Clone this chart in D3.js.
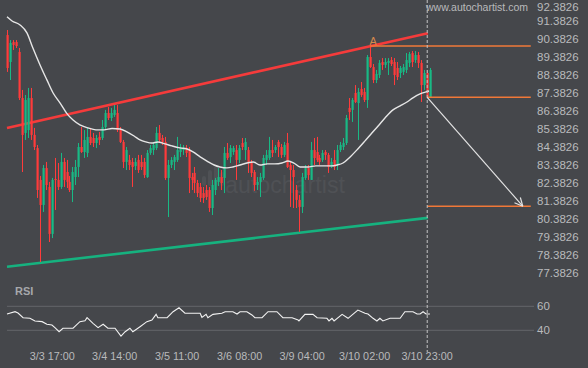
<!DOCTYPE html>
<html><head><meta charset="utf-8">
<script src="https://cdn.jsdelivr.net/npm/d3@7"></script>
<style>html,body{margin:0;padding:0;background:#45474b;}svg{display:block;}</style>
</head><body><svg id="c" width="588" height="368"></svg>
<script>
// ---- data (hourly candles, index 0..142) : [open, high, low, close]
const candles = [
[90.62,90.90,88.57,88.79],[89.12,90.34,88.12,90.18],[90.23,90.34,89.79,90.07],[90.23,90.34,89.90,90.01],
[89.68,89.90,87.01,87.12],[87.12,87.57,83.01,85.07],[85.18,87.29,84.79,87.01],[85.34,87.68,84.90,87.12],
[87.12,87.68,84.79,85.07],[85.07,85.46,84.23,84.40],[84.34,84.51,81.57,82.01],[82.57,82.79,78.01,81.18],
[81.18,83.40,80.79,83.23],[83.23,83.57,82.01,82.29],[82.18,82.46,79.12,79.57],[79.57,82.68,79.34,82.57],
[82.62,83.79,80.90,82.57],[82.57,83.51,82.01,82.18],[82.18,84.07,82.07,83.57],[83.57,83.79,82.18,82.57],
[83.01,83.68,82.12,82.46],[82.46,82.79,81.90,82.01],[82.01,83.29,81.34,83.01],[82.73,83.68,82.29,83.29],
[83.29,84.62,82.73,84.40],[84.40,85.51,84.07,84.12],[84.12,85.34,83.79,84.79],[84.07,85.51,83.84,84.96],
[84.96,85.46,84.51,84.62],[84.90,85.18,84.40,84.62],[84.62,85.07,84.34,84.90],[84.96,85.23,84.51,84.79],
[84.90,85.90,84.79,85.51],[85.51,86.46,85.34,86.29],[86.29,86.62,85.90,86.01],[86.01,86.57,85.84,86.29],
[86.18,86.73,86.07,86.46],[86.29,86.73,85.23,85.34],[85.34,85.51,84.62,84.68],[84.68,84.79,83.23,83.57],
[83.57,84.40,83.12,84.23],[83.68,83.96,83.12,83.40],[83.57,83.79,82.18,83.29],[83.34,83.79,83.12,83.57],
[83.68,83.96,82.96,83.12],[83.57,83.96,83.12,83.29],[83.57,83.79,82.68,82.84],[82.73,84.23,82.68,84.07],
[84.07,84.51,83.96,84.34],[84.23,84.68,83.96,84.51],[84.34,85.51,84.23,85.18],[85.18,85.62,84.68,84.79],
[84.90,85.07,84.51,84.68],[84.68,84.96,82.57,82.68],[82.68,83.68,80.51,83.40],[83.40,83.84,83.23,83.68],
[83.57,83.96,83.12,83.84],[83.68,84.96,83.57,84.23],[84.12,84.57,83.84,84.40],[84.23,84.51,83.96,84.34],
[84.34,84.51,83.84,84.07],[84.23,84.40,81.84,82.68],[82.73,82.96,82.01,82.57],[82.96,83.29,81.84,82.40],
[82.40,82.57,81.62,81.84],[82.18,82.40,81.34,81.57],[81.84,82.18,81.29,81.57],[82.01,82.29,81.46,81.62],
[82.01,82.18,80.79,81.01],[81.01,82.57,80.62,82.29],[82.01,82.68,81.73,82.57],[82.46,83.23,82.23,82.73],
[82.73,83.12,82.01,82.40],[82.68,84.40,81.84,84.07],[84.07,84.62,83.68,83.79],[83.84,84.51,83.51,84.34],
[84.12,84.46,83.96,84.34],[84.23,84.51,82.57,83.68],[83.68,84.51,83.51,84.34],[84.62,84.90,84.23,84.40],
[84.23,84.90,83.68,84.68],[84.23,84.40,82.96,83.51],[83.51,83.68,82.73,82.96],[83.01,83.12,81.96,82.29],
[82.29,82.73,82.01,82.46],[82.46,82.96,81.62,82.73],[82.68,83.96,82.57,83.79],[83.68,84.23,83.40,83.96],
[83.79,84.96,83.68,84.23],[84.23,84.79,83.84,84.07],[84.23,84.51,84.07,84.40],[84.68,84.79,83.84,84.40],
[84.40,84.57,83.79,83.96],[83.96,84.68,83.84,84.51],[84.62,85.18,83.23,83.29],[83.40,83.57,81.07,83.12],
[83.12,83.40,81.01,82.73],[82.01,82.29,81.01,81.46],[81.46,81.73,79.68,81.07],[81.07,82.96,80.73,82.73],
[82.68,83.40,82.57,83.23],[83.23,83.40,82.57,82.84],[82.57,84.68,82.57,84.23],[84.23,84.90,83.40,83.79],
[84.12,84.96,83.57,83.68],[83.79,83.96,83.40,83.57],[83.68,84.23,83.57,84.07],[84.12,84.23,83.68,83.96],
[83.96,84.07,82.96,83.29],[83.29,83.79,83.23,83.57],[83.68,84.23,83.12,83.29],[83.40,84.51,83.12,84.23],
[84.23,84.68,84.12,84.51],[84.40,84.90,84.23,84.62],[84.62,86.18,84.51,86.01],[86.57,87.12,85.90,86.34],
[86.46,87.12,85.79,87.01],[87.40,87.84,86.84,86.90],[86.84,87.68,84.79,87.46],[87.62,88.01,87.18,87.29],
[87.46,87.68,86.90,87.01],[87.01,89.51,86.57,89.40],[89.40,90.01,88.79,88.84],[88.84,89.01,87.95,88.12],
[88.12,88.68,87.95,88.46],[88.40,89.23,88.23,89.07],[89.12,89.34,88.68,88.96],[88.96,89.34,88.79,89.12],
[89.07,89.34,88.40,89.18],[89.23,89.40,88.90,89.01],[89.12,89.34,87.84,88.40],[88.79,89.12,88.12,88.29],
[88.51,88.90,88.23,88.79],[88.57,89.01,88.40,88.84],[88.68,89.62,88.51,89.23],[89.07,89.68,88.84,89.57],
[89.62,89.73,88.84,89.12],[89.23,89.73,89.07,89.51],[89.51,89.68,88.79,89.07],[89.07,89.23,86.90,87.84],
[87.84,88.68,87.57,88.51],[88.51,88.68,87.12,87.18],[87.18,88.79,87.18,88.68]
];
// moving average: [candle index, value]
const maLine = [
[0,91.63],[1.7,91.40],[4.4,91.18],[6.7,90.74],[8.7,89.90],[11.1,88.96],[13.4,88.13],[15.5,87.40],
[17.8,86.85],[20.2,86.24],[22.2,85.90],[24.5,85.63],[27.2,85.46],[29.9,85.35],[32.6,85.35],[35.3,85.43],
[38,85.40],[40.3,85.24],[42.7,85.01],[44.7,84.79],[46.7,84.68],[48.7,84.62],[50.7,84.68],[53.1,84.57],
[55.4,84.46],[58.1,84.35],[60.5,84.29],[62.5,84.13],[64.9,83.85],[67.2,83.62],[69.6,83.40],[71.6,83.29],
[73.9,83.24],[75.9,83.29],[78.3,83.40],[80.6,83.51],[82.7,83.57],[85,83.40],[87.4,83.46],[90,83.46],
[92.4,83.51],[94.4,83.62],[96.4,83.51],[98.5,83.29],[101.1,83.29],[103.8,83.35],[106.5,83.35],[108.9,83.35],
[110.9,83.40],[112.9,83.51],[115.3,83.85],[117.6,84.24],[120.3,84.74],[122.6,85.18],[124.7,85.57],[127,86.01],
[129.7,86.46],[132.1,86.68],[134.4,86.90],[136.4,87.13],[138.8,87.35],[140.8,87.46],[141.8,87.51]
];
// RSI: [candle index, value]
const rsiLine = [
[0,53.6],[2.7,55.5],[3.7,54.4],[5.4,50.5],[7.7,50.0],[9.4,47.8],[11.8,47.2],[13.4,45.0],[15.1,44.4],
[16.1,42.2],[17.5,38.8],[18.8,41.7],[22.2,41.7],[24.5,47.2],[26.2,48.0],[26.9,50.5],[28.9,45.8],[30.6,42.2],
[32.3,45.0],[33.9,41.7],[36.3,41.7],[38.3,35.2],[39.7,38.8],[41.3,41.7],[42.3,38.8],[44.7,43.0],[47.0,47.2],
[48.7,48.6],[50.1,53.3],[50.7,50.5],[53.8,50.5],[55.8,55.5],[57.8,58.8],[59.8,54.2],[64.9,54.2],[65.5,50.8],
[66.9,53.3],[67.5,50.5],[69.2,53.3],[72.2,54.2],[73.3,55.5],[75.9,55.5],[77.3,53.6],[78.3,55.5],[80.6,55.5],
[82.3,52.8],[83.3,50.5],[85.7,50.5],[87.7,55.5],[90.7,55.5],[92.7,50.5],[95.8,50.5],[97.8,48.6],[98.1,47.8],
[100.1,53.3],[102.8,53.3],[104.2,50.5],[107.5,50.0],[108.2,47.8],[109.2,50.0],[109.9,47.8],[112.6,53.3],
[114.6,50.0],[117.9,56.9],[120.3,54.2],[121.3,53.6],[123.0,50.0],[124.3,47.8],[125.3,50.0],[126.3,47.8],
[128.7,50.0],[132.1,50.0],[133.7,55.5],[136.4,55.5],[137.8,53.6],[138.8,53.6],[139.8,55.5],[140.8,53.6],[142.1,53.6]
];
// pattern lines: [index, value]
const resistance = [[0,85.46],[141.4,90.72]];
const support = [[0,77.75],[141.4,80.46]];
const levelA = {from:122, to:176, value:90.01, label:"A"};
const levelNow = {from:141.2, to:176, value:87.16};
const levelTarget = {from:141.2, to:176, value:81.11};
const forecast = [[141.2,87.16],[173.3,81.11]];
const nowIndex = 141.2;
const yTicks = [92.3826,91.3826,90.3826,89.3826,88.3826,87.3826,86.3826,85.3826,84.3826,83.3826,82.3826,81.3826,80.3826,79.3826,78.3826,77.3826];
const rsiTicks = [60,40];
const xTickIdx = [15,36,57,78,99,120,141];
const xTickLabels = ["3/3 17:00","3/4 14:00","3/5 11:00","3/6 08:00","3/9 04:00","3/10 02:00","3/10 23:00"];

// ---- drawing
const svg = d3.select("#c");
const x = d3.scaleLinear().domain([0,142]).range([7,429.6]);
const y = d3.scaleLinear().domain([77.3826,92.3826]).range([273.3,3.3]);
const yr = d3.scaleLinear().domain([40,60]).range([330.3,306.3]);
const RED="#ff3b3b", GREEN="#19b985", ORANGE="#f07838";
const font = "Liberation Sans, Arial, sans-serif";

// watermark
const wm = svg.append("g").attr("fill","#4f5155");
[[202,176,4,10],[208,170,4,16],[214,165,4,21],[220,172,4,14]].forEach(r=>{
  wm.append("rect").attr("x",r[0]).attr("y",r[1]).attr("width",r[2]).attr("height",r[3]).attr("rx",2);
});
wm.append("text").attr("x",225).attr("y",193).attr("font-family",font)
  .attr("font-size",23).attr("textLength",120).attr("lengthAdjust","spacingAndGlyphs").text("autochartist");

// RSI grid
svg.append("g").selectAll("line").data(rsiTicks).join("line")
  .attr("x1",7).attr("x2",534).attr("y1",d=>yr(d)).attr("y2",d=>yr(d))
  .attr("stroke","#63666a").attr("stroke-width",1);

// channel lines
const ln = d3.line().x(d=>x(d[0])).y(d=>y(d[1]));
svg.append("path").attr("d",ln(support)).attr("stroke","#16b27f").attr("stroke-width",2.6).attr("fill","none");
svg.append("path").attr("d",ln(resistance)).attr("stroke","#f53b3b").attr("stroke-width",2.6).attr("fill","none");

// candles
const cg = svg.append("g");
candles.forEach((c,i)=>{
  const up = c[3] >= c[0];
  const col = up ? GREEN : RED;
  const cx = Math.round(x(i));
  cg.append("line").attr("x1",cx+0.5).attr("x2",cx+0.5).attr("y1",y(c[1])).attr("y2",y(c[2]))
    .attr("stroke",col).attr("stroke-width",1);
  const top = y(Math.max(c[0],c[3])), bot = y(Math.min(c[0],c[3]));
  cg.append("rect").attr("x",cx-0.5).attr("y",top).attr("width",2.2).attr("height",Math.max(1,bot-top)).attr("fill",col);
});

// moving average
svg.append("path").attr("d",d3.line().curve(d3.curveMonotoneX).x(d=>x(d[0])).y(d=>y(d[1]))(maLine))
  .attr("stroke","#e6e6e6").attr("stroke-width",1.4).attr("fill","none");

// levels
[levelA, levelNow, levelTarget].forEach(l=>{
  svg.append("line").attr("x1",x(l.from)).attr("x2",x(l.to)).attr("y1",y(l.value)).attr("y2",y(l.value))
    .attr("stroke",ORANGE).attr("stroke-width",1.5);
});
svg.append("text").attr("x",x(levelA.from)+3).attr("y",y(levelA.value)-1.5).attr("text-anchor","middle")
  .attr("font-family",font).attr("font-size",11).attr("fill","#d4894d").text(levelA.label);

// now line
svg.append("line").attr("x1",x(nowIndex)).attr("x2",x(nowIndex)).attr("y1",0).attr("y2",352)
  .attr("stroke","#c4c4c4").attr("stroke-width",1).attr("stroke-dasharray","3,2");

// forecast arrow
const a0=[x(forecast[0][0]),y(forecast[0][1])], a1=[x(forecast[1][0]),y(forecast[1][1])];
svg.append("line").attr("x1",a0[0]).attr("y1",a0[1]).attr("x2",a1[0]).attr("y2",a1[1])
  .attr("stroke","#e4e4e4").attr("stroke-width",1.2);
const ang=Math.atan2(a1[1]-a0[1],a1[0]-a0[0]), L=9;
[0.45,-0.45].forEach(da=>{
  svg.append("line").attr("x1",a1[0]).attr("y1",a1[1])
    .attr("x2",a1[0]-L*Math.cos(ang+da)).attr("y2",a1[1]-L*Math.sin(ang+da))
    .attr("stroke","#e4e4e4").attr("stroke-width",1.2);
});

// RSI line
svg.append("path").attr("d",d3.line().x(d=>x(d[0])).y(d=>yr(d[1]))(rsiLine))
  .attr("stroke","#f2f2f2").attr("stroke-width",1.1).attr("fill","none");
svg.append("text").attr("x",15).attr("y",295).attr("font-family",font)
  .attr("font-size",11).attr("font-weight","bold").attr("fill","#a6a8ab").text("RSI");

// axes
const ya = svg.append("g").attr("transform","translate(533,0)")
  .call(d3.axisRight(y).tickValues(yTicks).tickFormat(d=>d.toFixed(4)).tickSize(0).tickPadding(4));
ya.select(".domain").remove();
ya.selectAll("text").attr("font-family",font).attr("font-size",11.5).attr("fill","#b9babc")
  .attr("y",function(d){ return y(d) < 7 ? 7 - y(d) : 0; });
const ra = svg.append("g").attr("transform","translate(533,0)")
  .call(d3.axisRight(yr).tickValues(rsiTicks).tickSize(0).tickPadding(4));
ra.select(".domain").remove();
ra.selectAll("text").attr("font-family",font).attr("font-size",11.5).attr("fill","#b9babc");
const xa = svg.append("g").attr("transform","translate(0,348)")
  .call(d3.axisBottom(x).tickValues(xTickIdx).tickFormat((d,i)=>xTickLabels[i]).tickSize(0).tickPadding(4));
xa.select(".domain").remove();
xa.selectAll("text").attr("font-family",font).attr("font-size",10.8).attr("fill","#b9babc");

// site label
svg.append("text").attr("x",426).attr("y",11).attr("font-family",font).attr("font-size",10.5)
  .attr("textLength",102).attr("lengthAdjust","spacing").attr("fill","#b9babc").text("www.autochartist.com");
</script></body></html>
